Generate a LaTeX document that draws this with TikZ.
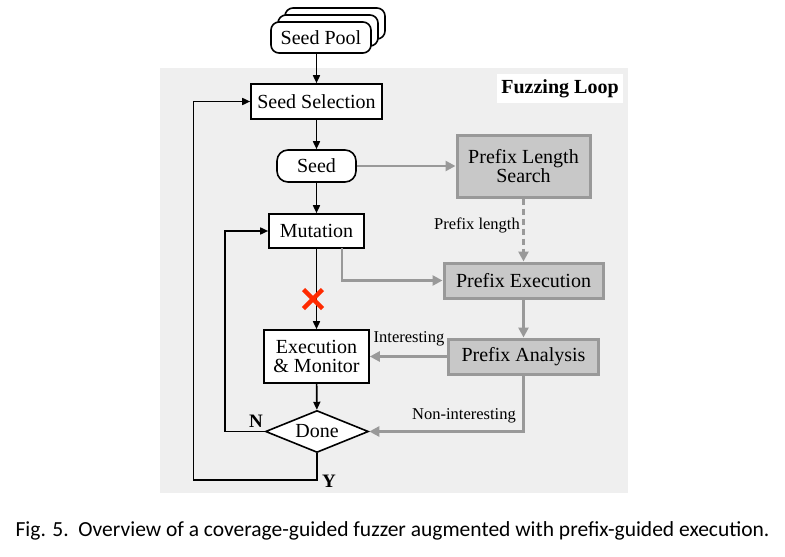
\documentclass[tikz,border=0pt]{standalone}
\usepackage{fontspec}
\setmainfont{Liberation Serif}
\newfontfamily\capfont{Carlito}
\usetikzlibrary{shapes.geometric,arrows.meta,calc}
\definecolor{bgloop}{HTML}{EFEFEF}
\definecolor{gfill}{HTML}{C8C8C8}
\definecolor{gline}{HTML}{999999}
\definecolor{xred}{HTML}{FF2A00}
\tikzset{
  box/.style={draw=black, line width=1.6pt, fill=white, inner sep=0pt, align=center, font=\fontsize{20}{22}\selectfont},
  rbox/.style={box, rounded corners=11pt},
  gbox/.style={draw=gline, line width=3pt, fill=gfill, inner sep=0pt, align=center, font=\fontsize{20}{22}\selectfont},
  blk/.style={draw=black, line width=1.6pt, -{Triangle[length=8pt,width=7pt]}},
  gry/.style={draw=gline, line width=2.8pt, -{Triangle[length=10pt,width=10pt]}},
  lbl/.style={font=\fontsize{16.5}{18}\selectfont, inner sep=0pt},
  yn/.style={font=\fontsize{19}{20}\selectfont\bfseries, inner sep=0pt}
}
\begin{document}
\begin{tikzpicture}[x=1pt,y=-1pt]
\useasboundingbox (0,0) rectangle (785,557);
\fill[bgloop] (160,68) rectangle (628,493);
\node[fill=white, minimum width=126pt, minimum height=29pt, inner sep=0pt, font=\fontsize{20}{22}\selectfont\bfseries] (title) at (560,88.5) {Fuzzing Loop};
% seed pool stack
\node[rbox, rounded corners=8pt, minimum width=100pt, minimum height=31pt] (pool3) at (335,23.5) {};
\node[rbox, rounded corners=8pt, minimum width=100pt, minimum height=31pt] (pool2) at (328,30.5) {};
\node[rbox, rounded corners=8pt, minimum width=100pt, minimum height=31pt] (pool) at (321,37.5) {Seed Pool};
\node[box, minimum width=131pt, minimum height=35pt] (sel) at (316.5,101.5) {Seed Selection};
\node[rbox, minimum width=79pt, minimum height=32pt] (seed) at (316.5,166) {Seed};
\node[gbox, minimum width=133pt, minimum height=62pt] (pls) at (523.5,166) {Prefix Length\\[-3pt]Search};
\node[box, minimum width=95pt, minimum height=34pt] (mut) at (316.5,231) {Mutation};
\node[gbox, minimum width=159pt, minimum height=35pt] (pe) at (523.5,280.5) {Prefix Execution};
\node[box, minimum width=105pt, minimum height=53pt] (em) at (316.5,356.5) {Execution\\[-3pt]\& Monitor};
\node[gbox, minimum width=150pt, minimum height=35pt] (pa) at (523.5,356.5) {Prefix Analysis};
\node[draw=black, line width=1.6pt, fill=white, diamond, aspect=2.6, minimum width=103pt, minimum height=42pt, inner sep=0pt, font=\fontsize{20}{22}\selectfont] (done) at (317,431.5) {Done};
% black arrows
\draw[blk] (pool.south -| sel.north) -- (sel.north);
\draw[blk] (sel) -- (seed);
\draw[blk] (seed) -- (mut);
\draw[blk] (mut) -- (em);
\draw[blk] (em) -- (done);
\coordinate (nturn) at (225,431.5);
\draw[blk] (done.west) -- (nturn) |- (mut.west);
\coordinate (yturn) at (193.5,480);
\draw[blk] (done.south) |- (yturn) |- (sel.west);
\node[yn] (nlab) at (256,421) {N};
\node[yn] (ylab) at (329,481) {Y};
% red cross
\coordinate (xc) at (313,299);
\draw[xred, line width=4.5pt] ($(xc)+(-9.5,-9.5)$) -- ($(xc)+(9.5,9.5)$) ($(xc)+(-9.5,9.5)$) -- ($(xc)+(9.5,-9.5)$);
% gray arrows
\draw[gry] (seed.east) -- (pls.west);
\draw[gry, dashed, dash pattern=on 6pt off 4pt] (pls.south) -- (pe.north);
\node[lbl, anchor=east] (plen) at (520,225) {Prefix length};
\coordinate (mtap) at (342,248);
\draw[gry] (mtap) |- (pe.west);
\draw[gry] (pe.south) -- (pa.north);
\draw[gry] (pa.west) -- (em.east);
\node[lbl] (intl) at (409,338.5) {Interesting};
\draw[gry] (pa.south) |- (done.east);
\node[lbl] (nonl) at (464,416) {Non-interesting};
% caption
\node[font=\capfont\fontsize{21.5}{24}\selectfont, inner sep=0pt] (cap) at (392.5,531) {Fig. 5.\ \ Overview of a coverage-guided fuzzer augmented with prefix-guided execution.};
\end{tikzpicture}
\end{document}
